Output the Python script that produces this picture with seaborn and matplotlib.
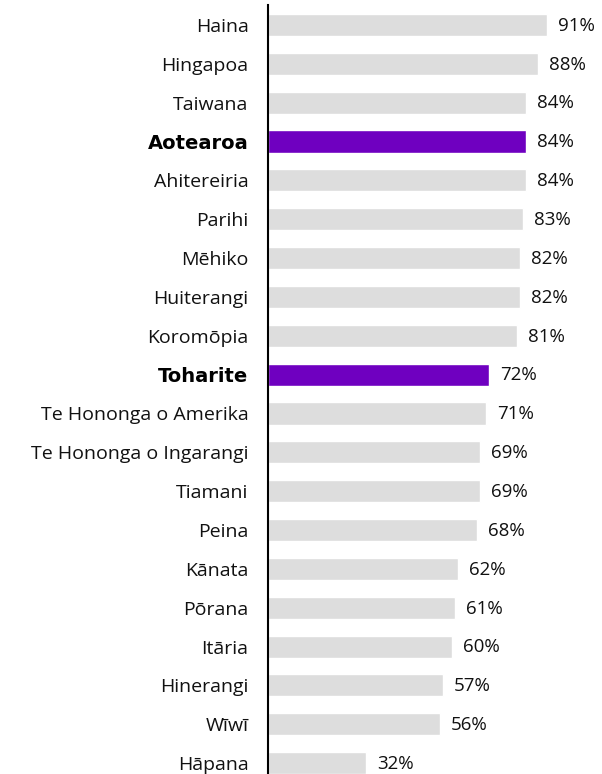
import matplotlib
matplotlib.use("Agg")
import matplotlib.pyplot as plt
import seaborn as sns
import pandas as pd

countries = ['Haina', 'Hingapoa', 'Taiwana', 'Aotearoa', 'Ahitereiria', 'Parihi',
             'Mēhiko', 'Huiterangi', 'Koromōpia', 'Toharite', 'Te Hononga o Amerika',
             'Te Hononga o Ingarangi', 'Tiamani', 'Peina', 'Kānata', 'Pōrana',
             'Itāria', 'Hinerangi', 'Wīwī', 'Hāpana']
values = [91, 88, 84, 84, 84, 83, 82, 82, 81, 72, 71, 69, 69, 68, 62, 61, 60, 57, 56, 32]
highlight = ['Aotearoa', 'Toharite']

df = pd.DataFrame({'country': countries, 'value': values})
df['group'] = ['hi' if c in highlight else 'lo' for c in countries]

sns.set_style("white")
plt.rcParams['font.family'] = ['Open Sans', 'DejaVu Sans']

fig = plt.figure(figsize=(6.02, 7.74), dpi=100)
ax = fig.add_axes([268 / 602, 0, 1 - 268 / 602, 769 / 774])

sns.barplot(data=df, y='country', x='value', hue='group',
            palette={'hi': '#6f00c0', 'lo': '#dddddd'}, dodge=False,
            width=0.57, legend=False, ax=ax, orient='h', saturation=1)

for i, v in enumerate(values):
    ax.text(v + 3.6, i + 0.02, f"{v}%", va='center', ha='left', fontsize=13.5, color='#111111')

ax.set_xlim(0, 108.8)
ax.set_ylim(19.28, -0.515)
ax.set_xlabel('')
ax.set_ylabel('')
ax.set_xticks([])
for s in ['top', 'right', 'bottom']:
    ax.spines[s].set_visible(False)
ax.spines['left'].set_color('black')
ax.spines['left'].set_linewidth(1.5)
ax.tick_params(axis='y', length=0, pad=14)
for lbl in ax.get_yticklabels():
    lbl.set_fontsize(14)
    lbl.set_color('#111111')
    if lbl.get_text() in highlight:
        lbl.set_fontweight('bold')
        lbl.set_fontsize(14)
        lbl.set_family(['DejaVu Sans'])
        lbl.set_color('black')

fig.savefig('out.png', dpi=100)
